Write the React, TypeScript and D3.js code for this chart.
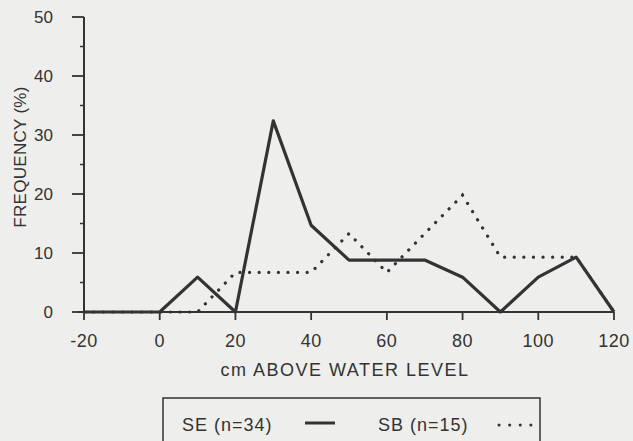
import React from "react";
import * as d3 from "d3";

const heights = [-20, -10, 0, 10, 20, 30, 40, 50, 60, 70, 80, 90, 100, 110, 120];
const seValues = [0, 0, 0, 5.9, 0, 32.4, 14.7, 8.8, 8.8, 8.8, 5.9, 0, 5.9, 9.3, 0];
const sbValues = [0, 0, 0, 0, 6.7, 6.7, 6.7, 13.3, 6.7, 13.3, 19.8, 9.3, 9.3, 9.3, 0];
const xTicks = [-20, 0, 20, 40, 60, 80, 100, 120];
const yTicks = [0, 10, 20, 30, 40, 50];
const yMinorTicks = [5, 15, 25, 35, 45];
const seLabel = "SE (n=34)";
const sbLabel = "SB (n=15)";

const W = 633;
const H = 441;
const ink = "#333";
const font = "'Liberation Sans', Arial, Helvetica, sans-serif";

export default function App() {
  const x = d3.scaleLinear().domain([-20, 120]).range([84, 614]);
  const y = d3.scaleLinear().domain([0, 50]).range([312, 17]);
  const line = d3
    .line<[number, number]>()
    .x((d) => x(d[0]))
    .y((d) => y(d[1]));
  const sePts = heights.map((h, i) => [h, seValues[i]] as [number, number]);
  const sbPts = heights.map((h, i) => [h, sbValues[i]] as [number, number]);

  return (
    <svg
      width={W}
      height={H}
      style={{ position: "absolute", left: 0, top: 0 }}
      fontFamily={font}
    >
      <rect x={0} y={0} width={W} height={H} fill="#eeeeec" />
      {/* y axis */}
      <line x1={x(-20)} x2={x(-20)} y1={y(50)} y2={y(0)} stroke={ink} strokeWidth={2} />
      {yTicks.map((t) => (
        <g key={"yt" + t}>
          <line x1={x(-20) - 12} x2={x(-20)} y1={y(t)} y2={y(t)} stroke={ink} strokeWidth={1.8} />
          <text
            x={53}
            y={y(t)}
            dy="0.35em"
            textAnchor="end"
            fontSize={17}
            fill={ink}
          >
            {t}
          </text>
        </g>
      ))}
      {yMinorTicks.map((t) => (
        <line key={"ym" + t} x1={x(-20) - 4} x2={x(-20)} y1={y(t)} y2={y(t)} stroke={ink} strokeWidth={1.5} />
      ))}
      <text
        transform={`translate(${26},${157}) rotate(-90)`}
        textAnchor="middle"
        fontSize={17}
        fill={ink}
        letterSpacing={0.3}
      >
        FREQUENCY (%)
      </text>
      {/* x axis */}
      <line x1={x(-20) - 6} x2={x(120)} y1={y(0)} y2={y(0)} stroke={ink} strokeWidth={2} />
      {xTicks.map((t) => (
        <g key={"xt" + t}>
          <line x1={x(t)} x2={x(t)} y1={y(0)} y2={y(0) + 8} stroke={ink} strokeWidth={1.8} />
          <text x={x(t)} y={347} textAnchor="middle" fontSize={18} fill={ink} letterSpacing={0.5}>
            {t}
          </text>
        </g>
      ))}
      <text x={345} y={376} textAnchor="middle" fontSize={18} fill={ink} letterSpacing={1.5}>
        cm ABOVE WATER LEVEL
      </text>
      {/* series */}
      <path
        d={line(sbPts) || ""}
        fill="none"
        stroke={ink}
        strokeWidth={3.2}
        strokeDasharray="0.1 9.5"
        strokeLinecap="round"
      />
      <path
        d={line(sePts) || ""}
        fill="none"
        stroke={ink}
        strokeWidth={3.2}
        strokeLinejoin="round"
      />
      {/* legend */}
      <rect x={163} y={398} width={377} height={60} fill="none" stroke={ink} strokeWidth={1.5} />
      <text x={182} y={431} fontSize={18} fill={ink} letterSpacing={1}>
        {seLabel}
      </text>
      <line x1={305} x2={335} y1={423} y2={423} stroke={ink} strokeWidth={3} />
      <text x={378} y={431} fontSize={18} fill={ink} letterSpacing={1}>
        {sbLabel}
      </text>
      <line
        x1={499}
        x2={531}
        y1={425}
        y2={425}
        stroke={ink}
        strokeWidth={3}
        strokeDasharray="0.1 10.5"
        strokeLinecap="round"
      />
    </svg>
  );
}
